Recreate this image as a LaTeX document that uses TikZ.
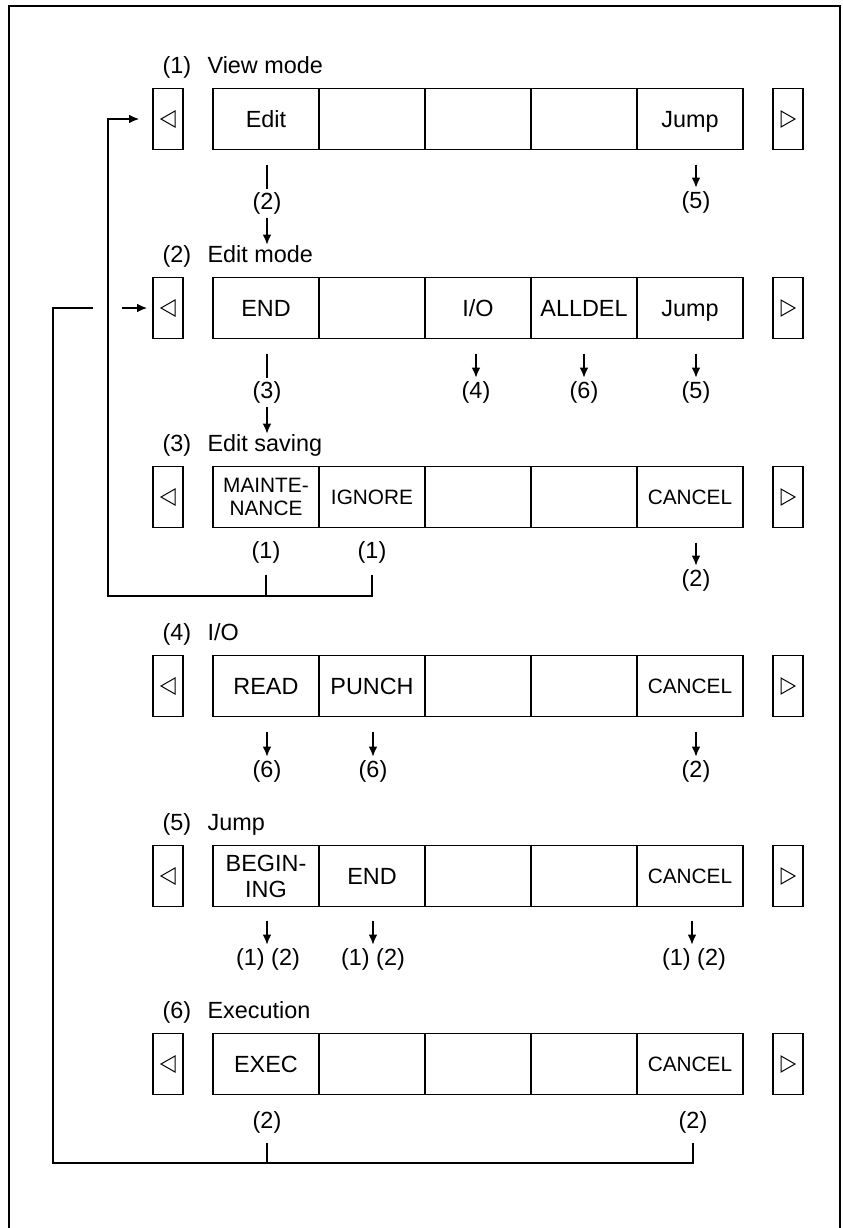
\documentclass[tikz,border=0pt]{standalone}
\usepackage{fontspec}
\setmainfont{Liberation Sans}
\usetikzlibrary{arrows.meta,positioning,calc}

\begin{document}
\begin{tikzpicture}[
  x=0.5pt,
  y=-0.5pt,
  font=\fontsize{11.7pt}{13pt}\selectfont,
  line width=0.6pt,
  >={Latex[length=5pt,width=4.4pt]},
  key/.style={
    draw,
    minimum width=53pt,
    minimum height=30.5pt,
    inner sep=0pt,
    outer sep=0pt,
    text depth=0pt,
    align=center
  },
  small/.style={font=\fontsize{10.4pt}{11.5pt}\selectfont},
  side/.style={
    draw,
    minimum width=15pt,
    minimum height=30.5pt,
    inner sep=0pt,
    outer sep=0pt
  },
  mode/.style={anchor=west, inner sep=0pt},
  goto/.style={inner sep=1.5pt},
  frame/.style={line width=1.3pt},
  leftmark/.pic={\draw[line width=0.5pt] (7,-8) -- (-7,0) -- (7,8) -- cycle;},
  rightmark/.pic={\draw[line width=0.5pt] (-7,-8) -- (7,0) -- (-7,8) -- cycle;}
]
\useasboundingbox (0,0) rectangle (842,1228);

%-----------------------------
% Outer frame
%-----------------------------
\draw[frame] (9,1228) -- (9,6) -- (840,6) -- (840,1228);

%-----------------------------
% (1) View mode
%-----------------------------
\node[mode] (viewT) at (162,67) {\makebox[22.5pt][l]{(1)}View mode};
\node[side] (viewL) at (168,119) {};
\node[key] (view1) at (266,119) {Edit};
\node[key, right=0pt of view1] (view2) {};
\node[key, right=0pt of view2] (view3) {};
\node[key, right=0pt of view3] (view4) {};
\node[key, right=0pt of view4] (view5) {Jump};
\node[side] (viewR) at (788,119) {};
\pic at (viewL) {leftmark};
\pic at (viewR) {rightmark};

\node[goto] (view1to) at ($(view1)+(1,84)$) {(2)};
\node[goto] (view5to) at ($(view5)+(6,83)$) {(5)};

%-----------------------------
% (2) Edit mode
%-----------------------------
\node[mode] (editT) at (162,256) {\makebox[22.5pt][l]{(2)}Edit mode};
\node[side] (editL) at (168,308) {};
\node[key] (edit1) at (266,308) {END};
\node[key, right=0pt of edit1] (edit2) {};
\node[key, right=0pt of edit2] (edit3) {I/O};
\node[key, right=0pt of edit3] (edit4) {ALLDEL};
\node[key, right=0pt of edit4] (edit5) {Jump};
\node[side] (editR) at (788,308) {};
\pic at (editL) {leftmark};
\pic at (editR) {rightmark};

\node[goto] (edit1to) at ($(edit1)+(1,84)$) {(3)};
\node[goto] (edit3to) at ($(edit3)+(-2,84)$) {(4)};
\node[goto] (edit4to) at ($(edit4)+(0,84)$) {(6)};
\node[goto] (edit5to) at ($(edit5)+(6,84)$) {(5)};

%-----------------------------
% (3) Edit saving
%-----------------------------
\node[mode] (saveT) at (162,445) {\makebox[22.5pt][l]{(3)}Edit saving};
\node[side] (saveL) at (168,497) {};
\node[key, small] (save1) at (266,497) {MAINTE-\\NANCE};
\node[key, small, right=0pt of save1] (save2) {IGNORE};
\node[key, right=0pt of save2] (save3) {};
\node[key, right=0pt of save3] (save4) {};
\node[key, small, right=0pt of save4] (save5) {CANCEL};
\node[side] (saveR) at (788,497) {};
\pic at (saveL) {leftmark};
\pic at (saveR) {rightmark};

\node[goto] (save1to) at ($(save1)+(0,55)$) {(1)};
\node[goto] (save2to) at ($(save2)+(0,55)$) {(1)};
\node[goto] (save5to) at ($(save5)+(6,83)$) {(2)};

%-----------------------------
% (4) I/O
%-----------------------------
\node[mode] (ioT) at (162,634) {\makebox[22.5pt][l]{(4)}I/O};
\node[side] (ioL) at (168,686) {};
\node[key] (io1) at (266,686) {READ};
\node[key, right=0pt of io1] (io2) {PUNCH};
\node[key, right=0pt of io2] (io3) {};
\node[key, right=0pt of io3] (io4) {};
\node[key, small, right=0pt of io4] (io5) {CANCEL};
\node[side] (ioR) at (788,686) {};
\pic at (ioL) {leftmark};
\pic at (ioR) {rightmark};

\node[goto] (io1to) at ($(io1)+(1,85)$) {(6)};
\node[goto] (io2to) at ($(io2)+(1,85)$) {(6)};
\node[goto] (io5to) at ($(io5)+(6,85)$) {(2)};

%-----------------------------
% (5) Jump
%-----------------------------
\node[mode] (jumpT) at (162,824) {\makebox[22.5pt][l]{(5)}Jump};
\node[side] (jumpL) at (168,876) {};
\node[key] (jump1) at (266,876) {BEGIN-\\ING};
\node[key, right=0pt of jump1] (jump2) {END};
\node[key, right=0pt of jump2] (jump3) {};
\node[key, right=0pt of jump3] (jump4) {};
\node[key, small, right=0pt of jump4] (jump5) {CANCEL};
\node[side] (jumpR) at (788,876) {};
\pic at (jumpL) {leftmark};
\pic at (jumpR) {rightmark};

\node[goto] (jump1to) at ($(jump1)+(2,83)$) {(1) (2)};
\node[goto] (jump2to) at ($(jump2)+(1,83)$) {(1) (2)};
\node[goto] (jump5to) at ($(jump5)+(4,83)$) {(1) (2)};

%-----------------------------
% (6) Execution
%-----------------------------
\node[mode] (execT) at (162,1012) {\makebox[22.5pt][l]{(6)}Execution};
\node[side] (execL) at (168,1064) {};
\node[key] (exec1) at (266,1064) {EXEC};
\node[key, right=0pt of exec1] (exec2) {};
\node[key, right=0pt of exec2] (exec3) {};
\node[key, right=0pt of exec3] (exec4) {};
\node[key, small, right=0pt of exec4] (exec5) {CANCEL};
\node[side] (execR) at (788,1064) {};
\pic at (execL) {leftmark};
\pic at (execR) {rightmark};

\node[goto] (exec1to) at ($(exec1)+(1,58)$) {(2)};
\node[goto] (exec5to) at ($(exec5)+(3,58)$) {(2)};

%-----------------------------
% Transitions between the modes
%-----------------------------
\draw ($(view1to.north |- view1.south)+(0,15)$) -- (view1to.north);
\draw[->] (view1to.south) -- (view1to.south |- editT.north);
\draw[->] ($(view5to.north |- view5.south)+(0,15)$) -- (view5to.north);

\draw ($(edit1to.north |- edit1.south)+(0,15)$) -- (edit1to.north);
\draw[->] (edit1to.south) -- (edit1to.south |- saveT.north);
\draw[->] ($(edit3to.north |- edit3.south)+(0,15)$) -- (edit3to.north);
\draw[->] ($(edit4to.north |- edit4.south)+(0,15)$) -- (edit4to.north);
\draw[->] ($(edit5to.north |- edit5.south)+(0,15)$) -- (edit5to.north);

\draw[->] ($(save5to.north |- save5.south)+(0,15)$) -- (save5to.north);

\draw[->] ($(io1to.north |- io1.south)+(0,15)$) -- (io1to.north);
\draw[->] ($(io2to.north |- io2.south)+(0,15)$) -- (io2to.north);
\draw[->] ($(io5to.north |- io5.south)+(0,15)$) -- (io5to.north);

\draw[->] ($(jump1.south)+(1,14)$) -- ($(jump1to.north)+(-1,0)$);
\draw[->] ($(jump2.south)+(1,14)$) -- ($(jump2to.north)+(0,0)$);
\draw[->] ($(jump5.south)+(2,14)$) -- ($(jump5to.north)+(-2,0)$);

%-----------------------------
% Return lines to the left keys
%-----------------------------
\coordinate (backview) at (108,596);
\draw ($(save1to.south)+(0,8)$) -- (save1to.south |- backview);
\draw[->, shorten >=7pt] ($(save2to.south)+(0,8)$) |- (backview) |- (viewL.west);

\coordinate (backedit) at (53,1163);
\coordinate (hopL) at (93,308);
\coordinate (hopR) at (122,308);
\draw ($(exec1to.south)+(0,6)$) -- (exec1to.south |- backedit);
\draw ($(exec5to.south)+(0,6)$) |- (backedit) |- (hopL);
\draw[->, shorten >=3pt] (hopR) -- (editL.west);

\end{tikzpicture}
\end{document}
